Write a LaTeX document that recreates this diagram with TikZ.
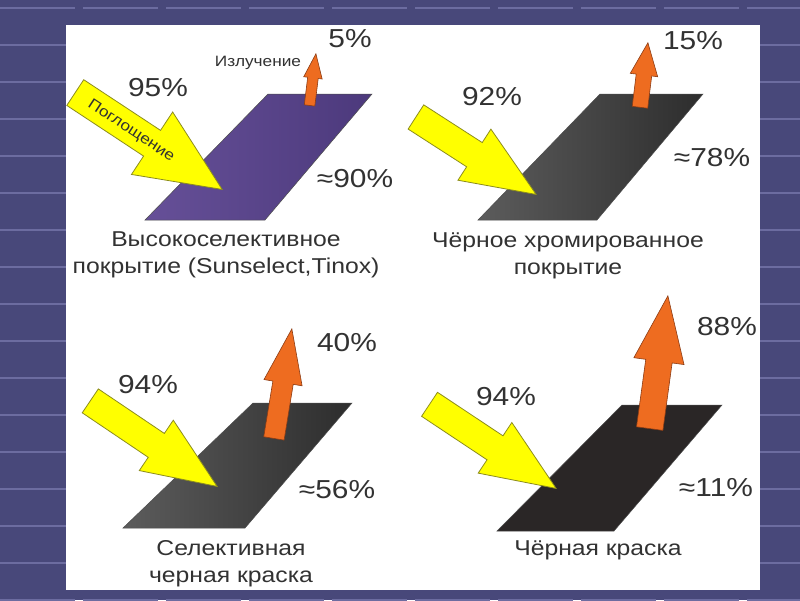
\documentclass[tikz,border=0pt]{standalone}
\usepackage{fontspec}
\setmainfont{Liberation Sans}[FakeStretch=1.15]
\usetikzlibrary{shapes.arrows}

\definecolor{slide}{RGB}{72,72,122}
\definecolor{stripe}{RGB}{108,108,160}
\definecolor{ink}{RGB}{50,50,50}
\definecolor{sunfill}{RGB}{255,255,0}
\definecolor{sunline}{RGB}{140,140,30}
\definecolor{heatfill}{RGB}{238,108,32}
\definecolor{heatline}{RGB}{140,60,20}
\definecolor{violetL}{RGB}{102,80,152}
\definecolor{violetD}{RGB}{76,57,124}
\definecolor{greyL}{RGB}{92,92,92}
\definecolor{greyD}{RGB}{45,45,45}
\definecolor{coal}{RGB}{42,38,38}

\begin{document}
\begin{tikzpicture}[x=1pt, y=-1pt,
  sun/.style={single arrow, draw=sunline, fill=sunfill, line width=.8pt,
    inner xsep=0pt, inner ysep=14pt, single arrow tip angle=45,
    single arrow head extend=16pt, anchor=tip},
  heat/.style={single arrow, draw=heatline, fill=heatfill, line width=.6pt,
    inner xsep=0pt, single arrow tip angle=42, anchor=tip},
  pct/.style={text=ink, font=\fontsize{26}{30}\selectfont},
  coat/.style={text=ink, font=\fontsize{21.5}{27}\selectfont, align=center},
  plate/.style={draw=black!70, line width=.5pt}]
  \useasboundingbox (0,0) rectangle (800,600);
  \fill[slide] (0,0) rectangle (800,600);
  \foreach \y in {8,45,...,600}
    \draw[stripe, line width=1.2pt, dash pattern=on 75pt off 8pt] (0,\y) -- (800,\y);
  \fill[white] (66,25) rectangle (760,590);

  % plates
  \shadedraw[plate, left color=violetL, right color=violetD] (145,220) -- (265,220) -- (372,94) -- (268,94) -- cycle;
  \shadedraw[plate, left color=greyL, right color=greyD] (478,220) -- (597,220) -- (703,94) -- (600,94) -- cycle;
  \shadedraw[plate, left color=greyL, right color=greyD] (123,528) -- (245,528) -- (352,403) -- (253,403) -- cycle;
  \filldraw[plate, fill=coal] (497,531) -- (614,531) -- (722,405) -- (622,405) -- cycle;

  % arrows
  \node[heat, inner ysep=5pt, single arrow head extend=4pt, minimum height=52pt, rotate=83] (h1) at (316,53) {};
  \node[heat, inner ysep=7.5pt, single arrow head extend=6pt, single arrow tip angle=46, minimum height=65pt, rotate=83] (h2) at (648,42) {};
  \node[heat, inner ysep=10pt, single arrow head extend=9pt, single arrow tip angle=39, minimum height=111pt, rotate=80.7] (h3) at (292,328) {};
  \node[heat, inner ysep=13pt, single arrow head extend=12pt, single arrow tip angle=42, minimum height=134pt, rotate=82.2] (h4) at (668,295) {};

  \node[sun, inner ysep=15pt, single arrow head extend=22pt, single arrow tip angle=48, minimum height=176pt, rotate=-33.4] (s1) at (223,190) {};
  \node[sun, minimum height=143pt, rotate=-32.8] (s2) at (537,195) {};
  \node[sun, minimum height=153pt, rotate=-34] (s3) at (218,487) {};
  \node[sun, minimum height=152pt, rotate=-33.6] (s4) at (557,489) {};

  % texts
  \node[text=ink, font=\fontsize{15}{18}\selectfont, rotate=-33.4] (n1) at (131,131) {Поглощение};
  \node[text=ink, font=\fontsize{15}{18}\selectfont] (e1) at (258,63) {Излучение};

  \node[pct] (t1) at (350,39)  {5\%};
  \node[pct] (i1) at (158,88)  {95\%};
  \node[pct] (r1) at (355,179) {≈90\%};
  \node[coat] (c1) at (226,255) {Высокоселективное\\покрытие (Sunselect,Tinox)};

  \node[pct] (t2) at (693,41)  {15\%};
  \node[pct] (i2) at (492,97)  {92\%};
  \node[pct] (r2) at (712,158) {≈78\%};
  \node[coat] (c2) at (568,256) {Чёрное хромированное\\покрытие};

  \node[pct] (t3) at (347,343) {40\%};
  \node[pct] (i3) at (148,385) {94\%};
  \node[pct] (r3) at (337,490) {≈56\%};
  \node[coat] (c3) at (231,564) {Селективная\\черная краска};

  \node[pct] (t4) at (727,327) {88\%};
  \node[pct] (i4) at (506,397) {94\%};
  \node[pct] (r4) at (716,488) {≈11\%};
  \node[coat] (c4) at (598,550) {Чёрная краска};
\end{tikzpicture}
\end{document}
